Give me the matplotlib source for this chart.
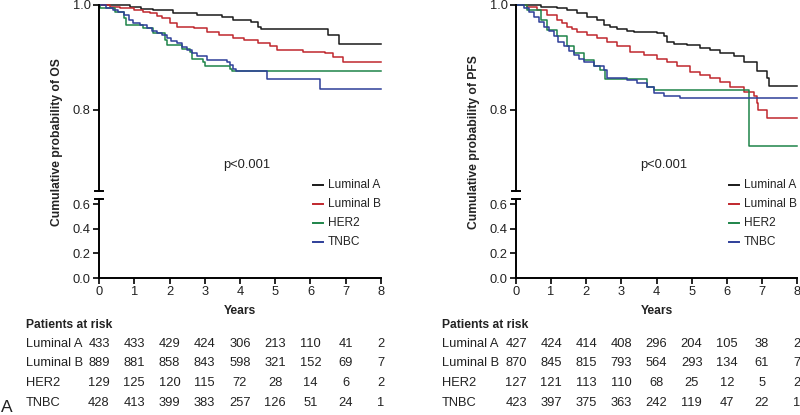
import matplotlib
matplotlib.use("Agg")
import matplotlib.pyplot as plt
from matplotlib.lines import Line2D

plt.rcParams['font.family'] = ['Liberation Sans', 'DejaVu Sans']

groups = ["Luminal A", "Luminal B", "HER2", "TNBC"]
colors = ["#1a1a1a", "#c0272d", "#1e8449", "#2e3f99"]

# ---- OS (left) step-curve readings: times (years) and survival ----
os_t = {
    "Luminal A": [0, 0.88, 1.2, 1.54, 2.1, 2.77, 3.5, 3.8, 4.3, 4.5, 4.6, 6.5, 6.8, 8],
    "Luminal B": [0, 0.3, 0.6, 1.0, 1.25, 1.45, 1.65, 1.8, 2.0, 2.2, 2.7, 3.05, 3.4, 3.8, 4.1, 4.5, 4.85, 5.04, 5.8, 6.4, 6.65, 6.93, 8],
    "HER2": [0, 0.03, 0.45, 0.7, 0.78, 1.26, 1.54, 1.87, 1.92, 2.35, 2.58, 2.63, 2.96, 3.0, 3.72, 3.76, 8],
    "TNBC": [0, 0.2, 0.4, 0.55, 0.7, 0.85, 0.97, 1.15, 1.35, 1.5, 1.64, 1.78, 1.92, 2.05, 2.2, 2.35, 2.49, 2.63, 2.77, 3.05, 3.62, 3.72, 3.81, 3.9, 4.76, 6.27, 8],
}
os_s = {
    "Luminal A": [1.0, 0.997, 0.993, 0.990, 0.985, 0.981, 0.978, 0.971, 0.968, 0.959, 0.954, 0.943, 0.926, 0.926],
    "Luminal B": [1.0, 0.997, 0.994, 0.990, 0.987, 0.984, 0.979, 0.975, 0.965, 0.959, 0.956, 0.949, 0.943, 0.938, 0.933, 0.927, 0.921, 0.914, 0.911, 0.908, 0.900, 0.891, 0.891],
    "HER2": [1.0, 0.994, 0.987, 0.975, 0.962, 0.956, 0.946, 0.933, 0.924, 0.916, 0.911, 0.898, 0.892, 0.884, 0.879, 0.875, 0.875],
    "TNBC": [1.0, 0.995, 0.990, 0.986, 0.981, 0.972, 0.965, 0.961, 0.956, 0.951, 0.946, 0.942, 0.937, 0.932, 0.927, 0.920, 0.914, 0.908, 0.902, 0.895, 0.892, 0.886, 0.879, 0.875, 0.859, 0.840, 0.840],
}

# ---- PFS (right) ----
pfs_t = {
    "Luminal A": [0, 0.7, 1.17, 1.45, 1.74, 2.02, 2.3, 2.5, 2.69, 2.87, 3.16, 3.35, 4.0, 4.2, 4.3, 4.49, 4.87, 5.25, 5.53, 5.82, 6.2, 6.48, 6.86, 7.14, 7.2, 8],
    "Luminal B": [0, 0.3, 0.6, 0.88, 1.17, 1.3, 1.45, 1.6, 1.74, 2.02, 2.3, 2.59, 2.87, 3.25, 3.63, 4.0, 4.3, 4.58, 4.96, 5.25, 5.53, 5.82, 6.1, 6.48, 6.77, 6.86, 6.9, 7.14, 8],
    "HER2": [0, 0.3, 0.7, 0.88, 1.17, 1.45, 1.64, 1.93, 2.21, 2.4, 2.54, 3.73, 3.92, 6.62, 8],
    "TNBC": [0, 0.22, 0.36, 0.5, 0.65, 0.79, 0.93, 1.07, 1.2, 1.36, 1.5, 1.64, 1.8, 1.93, 2.21, 2.5, 2.59, 3.16, 3.44, 3.73, 3.92, 4.2, 4.68, 8],
}
pfs_s = {
    "Luminal A": [1.0, 0.997, 0.994, 0.990, 0.984, 0.978, 0.971, 0.962, 0.959, 0.954, 0.951, 0.949, 0.946, 0.940, 0.930, 0.926, 0.924, 0.919, 0.914, 0.909, 0.902, 0.892, 0.874, 0.860, 0.846, 0.846],
    "Luminal B": [1.0, 0.997, 0.990, 0.981, 0.971, 0.965, 0.959, 0.954, 0.949, 0.943, 0.937, 0.930, 0.921, 0.911, 0.905, 0.898, 0.892, 0.883, 0.873, 0.867, 0.860, 0.854, 0.844, 0.835, 0.826, 0.813, 0.800, 0.784, 0.784],
    "HER2": [1.0, 0.990, 0.971, 0.952, 0.940, 0.921, 0.908, 0.895, 0.883, 0.876, 0.859, 0.843, 0.838, 0.732, 0.732],
    "TNBC": [1.0, 0.994, 0.986, 0.978, 0.968, 0.959, 0.950, 0.940, 0.930, 0.921, 0.913, 0.905, 0.898, 0.892, 0.883, 0.876, 0.860, 0.857, 0.851, 0.844, 0.832, 0.827, 0.822, 0.822],
}

risk_years = [0, 1, 2, 3, 4, 5, 6, 7, 8]
os_risk = {
    "Luminal A": [433, 433, 429, 424, 306, 213, 110, 41, 2],
    "Luminal B": [889, 881, 858, 843, 598, 321, 152, 69, 7],
    "HER2": [129, 125, 120, 115, 72, 28, 14, 6, 2],
    "TNBC": [428, 413, 399, 383, 257, 126, 51, 24, 1],
}
pfs_risk = {
    "Luminal A": [427, 424, 414, 408, 296, 204, 105, 38, 2],
    "Luminal B": [870, 845, 815, 793, 564, 293, 134, 61, 7],
    "HER2": [127, 121, 113, 110, 68, 25, 12, 5, 2],
    "TNBC": [423, 397, 375, 363, 242, 119, 47, 22, 1],
}

W, H = 800, 415
fig = plt.figure(figsize=(8, 4.15), dpi=100)
TXT = "#222222"
FS = 9.3


def px(x0, y0, x1, y1):
    return [x0 / W, 1 - y1 / H, (x1 - x0) / W, (y1 - y0) / H]


def panel(xl, xr, times, surv, risk, ylabel, tag_x):
    axu = fig.add_axes(px(xl, 5, xr, 191))
    axl = fig.add_axes(px(xl, 199, xr, 278))
    for g, c in zip(groups, colors):
        axu.step(times[g], surv[g], where="post", color=c, lw=1.1, clip_on=False)
    axu.set_xlim(0, 8)
    axl.set_xlim(0, 8)
    axu.set_ylim(0.6457, 1.0)
    axl.set_ylim(0, 0.643)
    for ax in (axu, axl):
        ax.spines["top"].set_visible(False)
        ax.spines["right"].set_visible(False)
        ax.spines["left"].set_linewidth(1.4)
        ax.patch.set_alpha(0)
        ax.tick_params(axis="both", direction="out", length=4, width=1.2,
                       labelsize=FS, colors="black", labelcolor=TXT, pad=2)
    axu.spines["bottom"].set_visible(False)
    axu.set_xticks([])
    axu.set_yticks([0.8, 1.0])
    axu.set_yticklabels(["0.8", "1.0"])
    axl.spines["bottom"].set_linewidth(1.4)
    axl.set_yticks([0, 0.2, 0.4, 0.6])
    axl.set_yticklabels(["0.0", "0.2", "0.4", "0.6"])
    axl.set_xticks(risk_years)
    # break caps
    axu.plot([-0.015, 0.015], [0, 0], transform=axu.transAxes, color="black",
             lw=1.4, clip_on=False)
    axl.plot([-0.015, 0.015], [1, 1], transform=axl.transAxes, color="black",
             lw=1.4, clip_on=False)
    # y label
    fig.text((xl - 42) / W, 1 - 142 / H, ylabel, rotation=90, ha="center",
             va="center", fontsize=8.7, fontweight="bold", color=TXT)
    # p-value
    axu.text(0.525, 1 - 160 / 186, "p<0.001", transform=axu.transAxes,
             ha="center", va="center", fontsize=FS, color=TXT)
    # Years label
    fig.text((xl + xr) / 2 / W, 1 - 311 / H, "Years", ha="center", va="center",
             fontsize=8.7, fontweight="bold", color=TXT)
    # legend (manual)
    for i, (g, c) in enumerate(zip(groups, colors)):
        yy = 1 - (185 + 19 * i) / H
        fig.add_artist(Line2D([(xr - 68) / W, (xr - 58) / W], [yy, yy],
                              transform=fig.transFigure, color=c, lw=1.4))
        fig.text((xr - 53) / W, yy, g, ha="left", va="center", fontsize=8.6,
                 color=TXT)
    # risk table
    fig.text(tag_x / W, 1 - 325 / H, "Patients at risk", ha="left",
             va="center", fontsize=8.7, fontweight="bold", color=TXT)
    row_y = [344, 363, 383, 403]
    for g, yy in zip(groups, row_y):
        fig.text(tag_x / W, 1 - yy / H, g, ha="left", va="center",
                 fontsize=FS, color=TXT)
        for yr, n in zip(risk_years, risk[g]):
            xx = axl.transData.transform((yr, 0))[0]
            fig.text(xx / W, 1 - yy / H, str(n), ha="center", va="center",
                     fontsize=FS, color=TXT)
    return axu, axl


panel(99, 381, os_t, os_s, os_risk, "Cumulative probability of OS", 26)
panel(516, 797, pfs_t, pfs_s, pfs_risk, "Cumulative probability of PFS", 442)

fig.text(1 / W, 1 - 407 / H, "A", ha="left", va="center", fontsize=12.5,
         color=TXT)

fig.savefig("out.png", dpi=100)
